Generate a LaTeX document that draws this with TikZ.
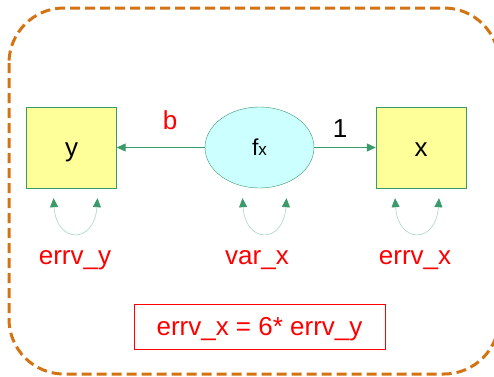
\documentclass[tikz,border=0pt]{standalone}
\usepackage{fontspec}
\setmainfont{Liberation Sans}
\usetikzlibrary{arrows.meta,shapes.geometric}
\definecolor{pathgreen}{HTML}{3A9A6A}
\definecolor{loopgreen}{HTML}{A6D9C2}
\definecolor{boxyellow}{HTML}{FFFF99}
\definecolor{latentcyan}{HTML}{CCFFFF}
\definecolor{frameorange}{HTML}{D47312}
\tikzset{
	bigfont/.style={font=\fontsize{26}{28}\selectfont, text height=23pt, text depth=6pt, inner sep=0pt},
	observed/.style={draw=pathgreen, fill=boxyellow, minimum width=90pt, minimum height=81pt, bigfont},
	latent/.style={ellipse, draw=pathgreen, fill=latentcyan, minimum width=109pt, minimum height=81pt, inner sep=0pt},
	regarrow/.style={draw=pathgreen, line width=1.1pt, -{Triangle[length=9pt,width=8pt]}},
	varloop/.style={draw=loopgreen, line width=0.6pt, {Triangle[color=pathgreen,length=9pt,width=8pt]}-{Triangle[color=pathgreen,length=9pt,width=8pt]}},
	redtext/.style={bigfont, text=red}
}
\begin{document}
\begin{tikzpicture}[x=1pt, y=-1pt]
	\useasboundingbox (0,0) rectangle (494,376);
	\draw[frameorange, line width=3pt, dash pattern=on 10pt off 5pt, rounded corners=55pt] (9,8) rectangle (499,374);
	% variables
	\node[observed] (y) at (71.5,147.5) {y};
	\node[latent] (fx) at (259.5,147.5) {\fontsize{23}{25}\selectfont f\fontsize{17}{19}\selectfont x};
	\node[observed] (x) at (421,147.5) {x};
	% paths
	\draw[regarrow] (fx) -- (y);
	\draw[regarrow] (fx) -- (x);
	\node[redtext] (b) at (170,121) {b};
	\node[bigfont] (one) at (340,129) {1};
	% variances
	\foreach \n/\dx in {y/4, fx/5, x/-4}
	{\draw[varloop] ([xshift=\dx pt-22pt,yshift=-10pt]\n.south) .. controls +(3,46) and +(-3,46) .. ([xshift=\dx pt+22pt,yshift=-10pt]\n.south);}
	\node[redtext] (errvy) at (75,256) {errv\_y};
	\node[redtext] (varx) at (257,256) {var\_x};
	\node[redtext] (errvx) at (415,256) {errv\_x};
	% constraint
	\node[redtext, draw=red, line width=0.8pt, minimum width=251pt, minimum height=45pt] (constr) at (259.5,326.5) {errv\_x = 6* errv\_y};
\end{tikzpicture}
\end{document}
